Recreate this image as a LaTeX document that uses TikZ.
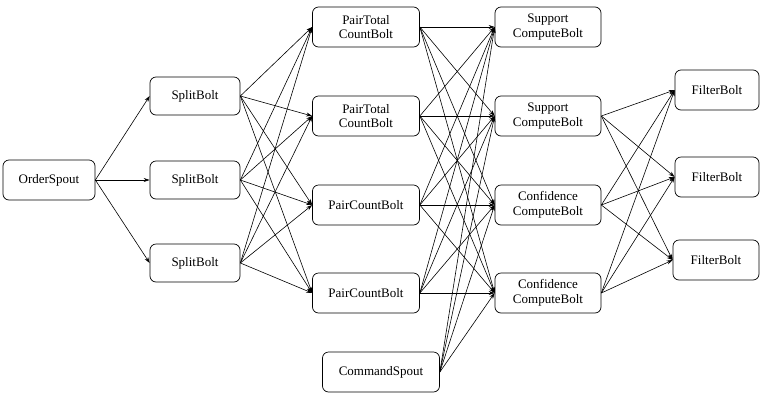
\documentclass[tikz,border=0pt]{standalone}
\usepackage{fontspec}
\setmainfont{Liberation Serif}
\usetikzlibrary{arrows.meta}
\begin{document}
\begin{tikzpicture}[x=1pt,y=-1pt,
  box/.style={draw,rounded corners=6pt,minimum height=40pt,align=center,font=\fontsize{13}{14.5}\selectfont,inner sep=1pt,line width=0.7pt},
  e/.style={-{Stealth[length=6pt,width=4pt]},line width=0.6pt}]
\useasboundingbox (0,0) rectangle (769,400);
\node[box,minimum width=92pt] (os) at (49,180) {OrderSpout};
\node[box,minimum width=90pt,minimum height=38pt] (s1) at (195,96) {SplitBolt};
\node[box,minimum width=90pt,minimum height=38pt] (s2) at (195,180) {SplitBolt};
\node[box,minimum width=90pt,minimum height=38pt] (s3) at (195,263) {SplitBolt};
\node[box,minimum width=107pt] (p1) at (366,27) {PairTotal\\CountBolt};
\node[box,minimum width=107pt] (p2) at (366,116) {PairTotal\\CountBolt};
\node[box,minimum width=107pt] (p3) at (366,205) {PairCountBolt};
\node[box,minimum width=107pt] (p4) at (366,293) {PairCountBolt};
\node[box,minimum width=117pt] (cs) at (381,372) {CommandSpout};
\node[box,minimum width=106pt] (c1) at (548,27) {Support\\ComputeBolt};
\node[box,minimum width=106pt] (c2) at (548,116) {Support\\ComputeBolt};
\node[box,minimum width=106pt] (c3) at (548,205) {Confidence\\ComputeBolt};
\node[box,minimum width=106pt] (c4) at (548,293) {Confidence\\ComputeBolt};
\node[box,minimum width=84pt] (f1) at (717,90) {FilterBolt};
\node[box,minimum width=84pt] (f2) at (717,177) {FilterBolt};
\node[box,minimum width=86pt] (f3) at (716,260) {FilterBolt};
\foreach \s in {s1,s2,s3} \draw[e] (os.east) -- (\s.west);
\foreach \s in {s1,s2,s3} \foreach \p in {p1,p2,p3,p4} \draw[e] (\s.east) -- (\p.west);
\foreach \p in {p1,p2,p3,p4,cs} \foreach \c in {c1,c2,c3,c4} \draw[e] (\p.east) -- (\c.west);
\foreach \c in {c2,c3,c4} \foreach \f in {f1,f2,f3} \draw[e] (\c.east) -- (\f.west);
\end{tikzpicture}
\end{document}
